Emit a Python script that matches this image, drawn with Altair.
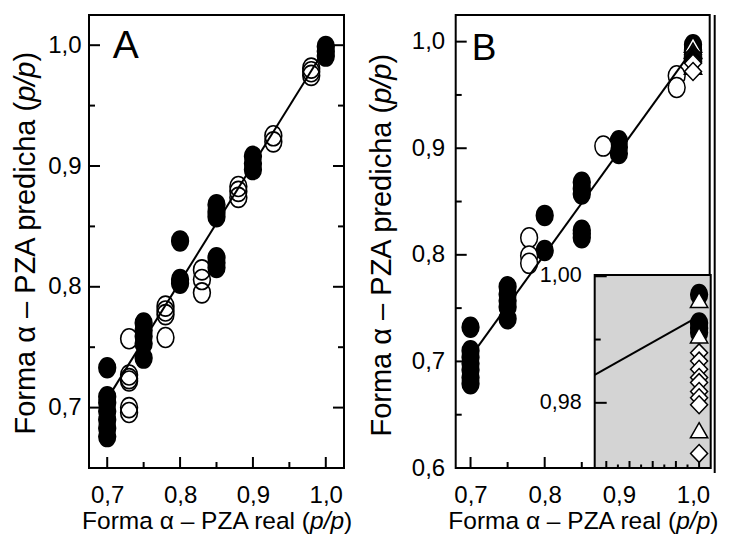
import altair as alt
import pandas as pd

FONT = "Liberation Sans"

# ---------------- Panel A data ----------------
A_closed_x = [0.70]*7 + [0.75]*5 + [0.80]*3 + [0.85]*6 + [0.90]*3 + [1.00]*3
A_closed_y = [0.733, 0.709, 0.704, 0.697, 0.690, 0.683, 0.676,
              0.770, 0.764, 0.759, 0.753, 0.741,
              0.838, 0.806, 0.803,
              0.868, 0.862, 0.858, 0.824, 0.820, 0.816,
              0.908, 0.902, 0.897,
              0.999, 0.995, 0.991]
A_open_x = [0.73]*6 + [0.78]*4 + [0.83]*3 + [0.88]*3 + [0.928]*2 + [0.98]*3
A_open_y = [0.757, 0.727, 0.724, 0.722, 0.700, 0.696,
            0.784, 0.780, 0.777, 0.758,
            0.814, 0.806, 0.795,
            0.883, 0.879, 0.874,
            0.925, 0.920,
            0.981, 0.978, 0.975]
A_fit_x = [0.706, 1.003]
A_fit_y = [0.713, 1.001]

# ---------------- Panel B data ----------------
B_closed_x = [0.70]*7 + [0.75]*5 + [0.80]*2 + [0.85]*6 + [0.90]*3
B_closed_y = [0.732, 0.710, 0.704, 0.698, 0.692, 0.685, 0.679,
              0.770, 0.763, 0.757, 0.751, 0.740,
              0.837, 0.804,
              0.868, 0.862, 0.857, 0.823, 0.820, 0.816,
              0.907, 0.901, 0.895]
B_open_x = [0.779]*3 + [0.879] + [0.978]*2
B_open_y = [0.816, 0.799, 0.792, 0.902, 0.968, 0.957]
B_pure_closed_y = [0.9971, 0.9926, 0.9918, 0.9911]
B_pure_tri_y = [0.9961, 0.9905, 0.9755]
B_pure_dia_y = [0.9879, 0.9866, 0.9853, 0.9840, 0.9832, 0.9818, 0.9808, 0.9797, 0.9720]
B_pure_x = 1.00
B_fit_x = [0.707, 1.000]
B_fit_y = [0.711, 0.993]
INSET_fit_x = [0.991, 1.000]
INSET_fit_y = [0.9844, 0.9937]

# ---------------- ticks / labels ----------------
A_tick_major = [0.7, 0.8, 0.9, 1.0]
A_tick_minor = [0.75, 0.85, 0.95]
B_ytick_major = [0.6, 0.7, 0.8, 0.9, 1.0]
B_ytick_minor = [0.65, 0.75, 0.85, 0.95]
INSET_ytick_major = [0.98, 1.00]
INSET_ytick_minor = [0.99]
INSET_xtick_major = [0.992, 0.994, 0.996, 0.998, 1.000]
INSET_xtick_minor = [0.993, 0.995, 0.997, 0.999]
INSET_label_v = [1.00, 0.98]
INSET_label_t = ["1,00", "0,98"]

XT1 = "Forma \u03b1 \u2013 PZA real ("
YT1 = "Forma \u03b1 \u2013 PZA predicha ("
IT = "p/p"
CL = ")"

# ---------------- layout (pixels inside one shared plot area) ----------------
WA, WB, H = 255, 254, 453
BX = 366.7                      # left edge of panel B
IX0, IX1, IY0 = BX + 139, BX + 255, 260
A_xsc = alt.Scale(domain=[0.675, 1.025], range=[0, WA], nice=False, zero=False)
A_ysc = alt.Scale(domain=[0.65, 1.025], range=[H, 0], nice=False, zero=False)
B_xsc = alt.Scale(domain=[0.68, 1.0225], range=[BX, BX + WB], nice=False, zero=False)
B_ysc = alt.Scale(domain=[0.60, 1.025], range=[H, 0], nice=False, zero=False)
I_xsc = alt.Scale(domain=[0.991, 1.001], range=[IX0, IX1], nice=False, zero=False)
I_ysc = alt.Scale(domain=[0.9697, 1.0002], range=[H, IY0], nice=False, zero=False)

LBL = "replace(format(datum.value, '.1f'), '.', ',')"


def xaxis(vals):
    return alt.Axis(orient="bottom", values=vals, labelExpr=LBL, ticks=False, tickSize=0,
                    domain=False, grid=False, labelFontSize=24, labelFont=FONT,
                    labelColor="black", labelPadding=27, labelBaseline="middle",
                    labelFlush=False, labelOverlap=False, title=None)


def yaxis(vals, pad, offset=0):
    return alt.Axis(orient="left", values=vals, labelExpr=LBL, ticks=False, tickSize=0,
                    domain=False, grid=False, labelFontSize=24, labelFont=FONT,
                    labelColor="black", labelPadding=pad, labelFlush=False,
                    labelOverlap=False, title=None, offset=offset)


ONE = pd.DataFrame({"k": [0]})
ELL = "M -0.84 0 A 0.84 1 0 1 0 0.84 0 A 0.84 1 0 1 0 -0.84 0 Z"
TRI = "M 0 -1 L 1 0.75 L -1 0.75 Z"
DIA = "M 0 -1 L 0.95 0 L 0 1 L -0.95 0 Z"


def pts(xs, ys, shape, size, fill, xsc, ysc, xax=None, yax=None):
    df = pd.DataFrame({"x": xs, "y": ys})
    if fill is None:
        m = alt.Chart(df).mark_point(shape=shape, size=size, filled=False, color="black",
                                     strokeWidth=1.6, opacity=1)
    else:
        m = alt.Chart(df).mark_point(shape=shape, size=size, filled=True, fill=fill,
                                     stroke="black", strokeWidth=1.5, opacity=1,
                                     fillOpacity=1)
    return m.encode(x=alt.X("x:Q", scale=xsc, axis=xax), y=alt.Y("y:Q", scale=ysc, axis=yax))


def fit(xs, ys, xsc, ysc):
    df = pd.DataFrame({"x": xs, "y": ys})
    return alt.Chart(df).mark_line(color="black", strokeWidth=2).encode(
        x=alt.X("x:Q", scale=xsc, axis=None), y=alt.Y("y:Q", scale=ysc, axis=None))


def yrule(vals, x0, x1, ysc):
    return alt.Chart(pd.DataFrame({"y": vals, "k": 0})).mark_rule(
        color="black", strokeWidth=2).encode(
        y=alt.Y("y:Q", scale=ysc, axis=None), x=alt.value(x0), x2=alt.value(x1))


def xrule(vals, y0, y1, xsc):
    return alt.Chart(pd.DataFrame({"x": vals, "k": 0})).mark_rule(
        color="black", strokeWidth=2).encode(
        x=alt.X("x:Q", scale=xsc, axis=None), y=alt.value(y0), y2=alt.value(y1))


def frame(x0, x1, y0, y1, fill="transparent"):
    return alt.Chart(ONE).mark_rect(fill=fill, stroke="black", strokeWidth=2).encode(
        x=alt.value(x0), x2=alt.value(x1), y=alt.value(y0), y2=alt.value(y1))


def txt(text, x, y, size, align="left", baseline="alphabetic", angle=0, style="normal"):
    return alt.Chart(ONE).mark_text(text=text, font=FONT, fontSize=size, align=align,
                                    baseline=baseline, angle=angle, fontStyle=style,
                                    color="black").encode(x=alt.value(x), y=alt.value(y))


def xtitle(cx, y, fs):
    w1, w2 = 9.357 * fs, 1.39 * fs
    w3 = 0.333 * fs
    j = cx - (w1 + w2 + w3) / 2 + w1
    return [txt(XT1, j, y, fs, align="right", baseline="middle"),
            txt(IT, j, y, fs, align="left", baseline="middle", style="italic"),
            txt(CL, j + w2, y, fs, align="left", baseline="middle")]


def ytitle(x, cy, fs):
    w1, w2 = 11.525 * fs, 1.39 * fs
    w3 = 0.333 * fs
    j = cy + (w1 + w2 + w3) / 2 - w1
    return [txt(YT1, x, j, fs, align="right", baseline="middle", angle=270),
            txt(IT, x, j, fs, align="left", baseline="middle", angle=270, style="italic"),
            txt(CL, x, j - w2, fs, align="left", baseline="middle", angle=270)]


n1 = len(B_pure_closed_y)
n2 = len(B_pure_tri_y)
n3 = len(B_pure_dia_y)

layers = [
    # ---- panel A ----
    frame(0, WA, 0, H),
    yrule(A_tick_major, 0, 11, A_ysc),
    yrule(A_tick_minor, 0, 6, A_ysc),
    yrule(A_tick_major, WA - 11, WA, A_ysc),
    yrule(A_tick_minor, WA - 6, WA, A_ysc),
    xrule(A_tick_major, H - 11, H, A_xsc),
    xrule(A_tick_minor, H - 6, H, A_xsc),
    pts(A_open_x, A_open_y, ELL, 400, None, A_xsc, A_ysc),
    pts(A_closed_x, A_closed_y, ELL, 400, "black", A_xsc, A_ysc,
        xaxis(A_tick_major), yaxis(A_tick_major, 8)),
    fit(A_fit_x, A_fit_y, A_xsc, A_ysc),
    txt("A", 23.7, 42.7, 39),
] + xtitle(WA / 2, H + 54, 24.5) + ytitle(-62.6, 229, 29) + [
    # ---- panel B ----
    frame(BX, BX + WB, 0, H),
    alt.Chart(ONE).mark_rule(color="black", strokeWidth=2).encode(
        x=alt.value(BX + WB + 5), y=alt.value(0), y2=alt.value(H + 5)),
    yrule(B_ytick_major, BX, BX + 11, B_ysc),
    yrule(B_ytick_minor, BX, BX + 6, B_ysc),
    xrule(A_tick_major, H - 11, H, B_xsc),
    xrule(A_tick_minor, H - 6, H, B_xsc),
    pts(B_closed_x, B_closed_y, ELL, 400, "black", B_xsc, B_ysc,
        xaxis(A_tick_major), yaxis(B_ytick_major, 11, offset=-BX)),
    pts(B_open_x, B_open_y, ELL, 400, "white", B_xsc, B_ysc),
    pts([B_pure_x]*n1, B_pure_closed_y, ELL, 400, "black", B_xsc, B_ysc),
    pts([B_pure_x]*n2, B_pure_tri_y, TRI, 300, "white", B_xsc, B_ysc),
    pts([B_pure_x]*n3, B_pure_dia_y, DIA, 320, "white", B_xsc, B_ysc),
    fit(B_fit_x, B_fit_y, B_xsc, B_ysc),
    txt("B", BX + 16, 45.3, 37),
] + xtitle(BX + WB / 2, H + 54, 24.5) + ytitle(BX - 74, 231, 29) + [
    # ---- inset ----
    frame(IX0, IX1, IY0, H, fill="#d4d4d4"),
    yrule(INSET_ytick_major, IX0, IX0 + 12, I_ysc),
    yrule(INSET_ytick_minor, IX0, IX0 + 6, I_ysc),
    xrule(INSET_xtick_major, H - 7, H, I_xsc),
    xrule(INSET_xtick_minor, H - 3.5, H, I_xsc),
    alt.Chart(pd.DataFrame({"y": INSET_label_v, "t": INSET_label_t})).mark_text(
        align="right", baseline="middle", font=FONT, fontSize=21.5, color="black").encode(
        y=alt.Y("y:Q", scale=I_ysc, axis=None), x=alt.value(IX0 - 13), text="t:N"),
    fit(INSET_fit_x, INSET_fit_y, I_xsc, I_ysc),
    pts([B_pure_x]*n1, B_pure_closed_y, ELL, 400, "black", I_xsc, I_ysc),
    pts([B_pure_x]*n2, B_pure_tri_y, TRI, 300, "white", I_xsc, I_ysc),
    pts([B_pure_x]*n3, B_pure_dia_y, DIA, 320, "white", I_xsc, I_ysc),
]

chart = alt.layer(*layers).resolve_scale(x="independent", y="independent").properties(
    width=round(BX + WB), height=H,
    padding={"left": 4, "top": 6, "right": 0, "bottom": 0}
).configure_view(strokeWidth=0)

chart.save("out.html", embed_options={"renderer": "svg", "actions": False})
